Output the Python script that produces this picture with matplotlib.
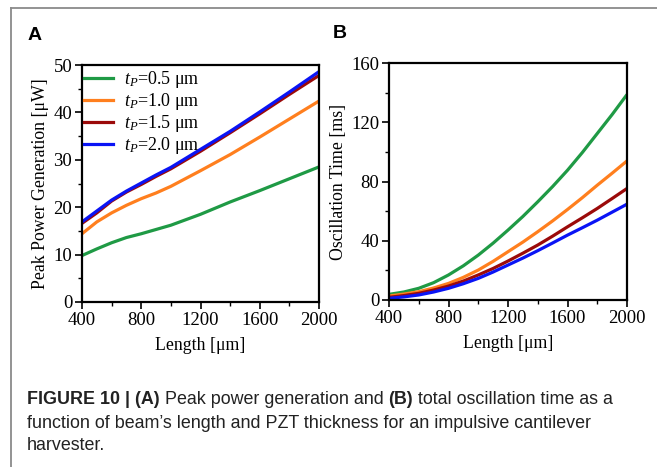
import matplotlib
matplotlib.use("Agg")
import matplotlib.pyplot as plt
from matplotlib.lines import Line2D
from matplotlib.ticker import MultipleLocator

plt.rcParams['font.family'] = ['Liberation Serif', 'DejaVu Serif']
plt.rcParams['mathtext.fontset'] = 'custom'
plt.rcParams['mathtext.rm'] = 'Liberation Serif'
plt.rcParams['mathtext.it'] = 'Liberation Serif:italic'

labels = ["0.5", "1.0", "1.5", "2.0"]
colors = ["#1f9a45", "#ff7f1e", "#9b0a0a", "#0a14f5"]

length_a = [400, 500, 600, 700, 800, 900, 1000, 1200, 1400, 1600, 1800, 2000]
power_05 = [9.8, 11.2, 12.5, 13.6, 14.4, 15.3, 16.2, 18.5, 21.1, 23.5, 26.0, 28.5]
power_10 = [14.4, 16.9, 18.8, 20.4, 21.8, 23.0, 24.4, 27.7, 31.1, 34.8, 38.6, 42.4]
power_15 = [16.6, 18.8, 21.3, 23.2, 24.8, 26.5, 28.1, 31.8, 35.7, 39.7, 43.8, 47.8]
power_20 = [16.9, 19.2, 21.5, 23.4, 25.1, 26.8, 28.4, 32.2, 36.0, 40.1, 44.3, 48.6]

length_b = [400, 500, 600, 700, 800, 900, 1000, 1100, 1200, 1300, 1400, 1500,
            1600, 1700, 1800, 1900, 2000]
time_05 = [3.8, 5.4, 7.9, 11.7, 16.9, 23.1, 30.3, 38.4, 47.2, 56.4, 66.3, 76.6,
           87.6, 99.6, 112.4, 125.2, 138.7]
time_10 = [2.7, 4.0, 5.6, 8.1, 11.2, 15.3, 20.2, 26.1, 32.6, 39.1, 46.1, 53.4,
           61.1, 69.1, 77.5, 85.6, 93.9]
time_15 = [1.8, 3.0, 4.5, 6.7, 9.4, 12.8, 16.9, 21.3, 26.3, 31.6, 37.1, 43.1,
           49.4, 55.5, 61.8, 68.5, 75.3]
time_20 = [1.1, 2.1, 3.4, 5.4, 7.9, 11.0, 14.6, 18.9, 23.6, 28.3, 33.3, 38.5,
           43.8, 48.8, 53.9, 59.3, 64.7]

powers = [power_05, power_10, power_15, power_20]
times = [time_05, time_10, time_15, time_20]

W, H = 657, 467
fig = plt.figure(figsize=(W / 100, H / 100), dpi=100)

def axrect(l, t, r, b):
    return [l / W, 1 - b / H, (r - l) / W, (b - t) / H]

axA = fig.add_axes(axrect(82, 65, 319, 302))
axB = fig.add_axes(axrect(389, 63, 627, 300))

for ax in (axA, axB):
    for s in ax.spines.values():
        s.set_linewidth(1.6)
        s.set_color('black')
    ax.tick_params(which='major', direction='out', length=5, width=1.2,
                   labelsize=13.5, pad=2, colors='black')
    ax.tick_params(which='minor', direction='out', length=3, width=1.0)
    ax.set_xlim(400, 2000)
    ax.set_xticks([400, 800, 1200, 1600, 2000])
    ax.xaxis.set_minor_locator(MultipleLocator(200))
    ax.set_xlabel("Length [μm]", fontsize=12.8, labelpad=6)

for i in range(4):
    axA.plot(length_a, powers[i], color=colors[i], lw=2.3, solid_capstyle='butt')
    axB.plot(length_b, times[i], color=colors[i], lw=2.3, solid_capstyle='butt')

axA.set_ylim(0, 50)
axA.set_yticks([0, 10, 20, 30, 40, 50])
axA.yaxis.set_minor_locator(MultipleLocator(5))
axA.set_ylabel("Peak Power Generation [μW]", fontsize=12.8, labelpad=3)

axB.set_ylim(0, 160)
axB.set_yticks([0, 40, 80, 120, 160])
axB.yaxis.set_minor_locator(MultipleLocator(20))
axB.set_ylabel("Oscillation Time [ms]", fontsize=12.8, labelpad=3)

handles = [Line2D([], [], color=c, lw=2.3) for c in colors]
leg_labels = [r"$t_P$=" + l + " μm" for l in labels]
axA.legend(handles, leg_labels, loc='upper left', frameon=False, fontsize=13,
           handlelength=1.6, handletextpad=0.6, labelspacing=0.05,
           borderpad=0.1, borderaxespad=0.0, bbox_to_anchor=(0.0, 0.99))

fig.text(28 / W, 1 - 36 / H, "A", fontsize=14, fontweight='bold',
         family=['Liberation Sans', 'DejaVu Sans'], va='center', ha='left')
fig.text(333 / W, 1 - 34 / H, "B", fontsize=14, fontweight='bold',
         family=['Liberation Sans', 'DejaVu Sans'], va='center', ha='left')

# frame lines
fig.add_artist(Line2D([11 / W, 11 / W], [0, 1 - 8 / H], color='#8a8a8a', lw=1.3,
                      transform=fig.transFigure))
fig.add_artist(Line2D([11 / W, 1], [1 - 8 / H, 1 - 8 / H], color='#8a8a8a', lw=1.3,
                      transform=fig.transFigure))

cap_font = ['Liberation Sans', 'DejaVu Sans']
cap_color = '#222222'
cap_size = 12.9
y1 = 1 - 400 / H
parts = [("FIGURE 10 | (A)", 'bold'), (" Peak power generation and ", 'normal'),
         ("(B)", 'bold'), (" total oscillation time as a", 'normal')]
x = 27 / W
renderer = fig.canvas.get_renderer()
for txt, wt in parts:
    t = fig.text(x, y1, txt, fontsize=cap_size, fontweight=wt, family=cap_font,
                 color=cap_color, va='center', ha='left')
    bb = t.get_window_extent(renderer=renderer)
    x += bb.width / W
fig.text(27 / W, 1 - 423 / H, "function of beam’s length and PZT thickness for an impulsive cantilever",
         fontsize=cap_size, family=cap_font, color=cap_color, va='center', ha='left')
fig.text(27 / W, 1 - 446 / H, "harvester.",
         fontsize=cap_size, family=cap_font, color=cap_color, va='center', ha='left')

fig.savefig("out.png", dpi=100)
